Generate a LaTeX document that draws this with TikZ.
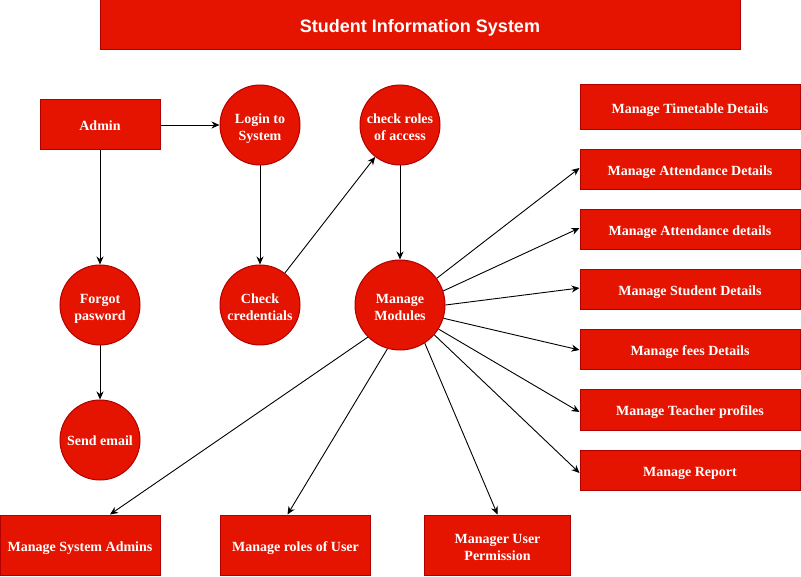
\documentclass[tikz,border=0pt]{standalone}
\usepackage{fontspec}
\setmainfont{Liberation Serif}
\newfontfamily\titlefont{Liberation Sans}
\usetikzlibrary{arrows.meta}
\definecolor{boxred}{HTML}{E51400}
\definecolor{edgered}{HTML}{B20000}
\begin{document}
\begin{tikzpicture}[x=1pt,y=-1pt,
  base/.style={fill=boxred,draw=edgered,line width=1pt,text=white,
    font=\fontsize{14}{17}\selectfont\bfseries,align=center,inner sep=0pt,
    text height=12.5pt,text depth=0.5pt},
  twoline/.style={text height=32.3pt,text depth=0.5pt},
  rbox/.style n args={2}{base,rectangle,minimum width=#1pt,minimum height=#2pt},
  circ/.style={base,circle,minimum size=#1pt},
  circ/.default=80,
  conn/.style={draw=black,line width=0.9pt,-{Stealth[length=8pt,width=7pt]}}]
\useasboundingbox (0,0) rectangle (801,577);

% title banner
\node[rbox={640}{50},font=\titlefont\fontsize{18}{22}\selectfont\bfseries,
  text height=15pt,text depth=0pt] (title) at (420,25) {Student Information System};

% login flow
\node[rbox={120}{50}] (admin) at (100,125) {Admin};
\node[circ,twoline] (login) at (260,125) {Login to\\System};
\node[circ,twoline] (roles) at (400,125) {check roles\\of access};
\node[circ,twoline] (forgot) at (100,305) {Forgot\\pasword};
\node[circ] (email) at (100,440) {Send email};
\node[circ,twoline] (cred) at (260,305) {Check\\credentials};
\node[circ=90,twoline] (modules) at (400,305) {Manage\\Modules};

% module boxes on the right
\node[rbox={220}{45}] (tt)   at (690,107.5) {Manage Timetable Details};
\node[rbox={220}{40}] (att1) at (690,170) {Manage Attendance Details};
\node[rbox={220}{40}] (att2) at (690,230) {Manage Attendance details};
\node[rbox={220}{40}] (stu)  at (690,290) {Manage Student Details};
\node[rbox={220}{40}] (fee)  at (690,350) {Manage fees Details};
\node[rbox={220}{40}] (tea)  at (690,410) {Manage Teacher profiles};
\node[rbox={220}{40}] (rep)  at (690,470) {Manage Report};

% module boxes along the bottom
\node[rbox={160}{60}] (sysadm) at (80,545) {Manage System Admins};
\node[rbox={150}{60}] (rolesu) at (295.5,545) {Manage roles of User};
\node[rbox={146}{60},twoline] (perm) at (497.5,545) {Manager User\\Permission};

% connectors
\draw[conn] (admin) -- (login);
\draw[conn] (admin) -- (forgot);
\draw[conn] (forgot) -- (email);
\draw[conn] (login) -- (cred);
\draw[conn] (cred) -- (roles);
\draw[conn] (roles) -- (modules);

\draw[conn] (modules.36.6) -- ([yshift=2pt]att1.west);
\draw[conn] (modules.18.4) -- ([yshift=2pt]att2.west);
\draw[conn] (modules.0)    -- ([yshift=2pt]stu.west);
\draw[conn] (modules.-17.6) -- (fee.west);
\draw[conn] (modules.-32)  -- ([yshift=-2pt]tea.west);
\draw[conn] (modules.-41.5) -- ([yshift=-3pt]rep.west);

\draw[conn] (modules.-135) -- ([xshift=30pt]sysadm.north);
\draw[conn] (modules.-106) -- ([xshift=-8pt]rolesu.north);
\draw[conn] (modules.-57.6) -- (perm.north);
\end{tikzpicture}
\end{document}
